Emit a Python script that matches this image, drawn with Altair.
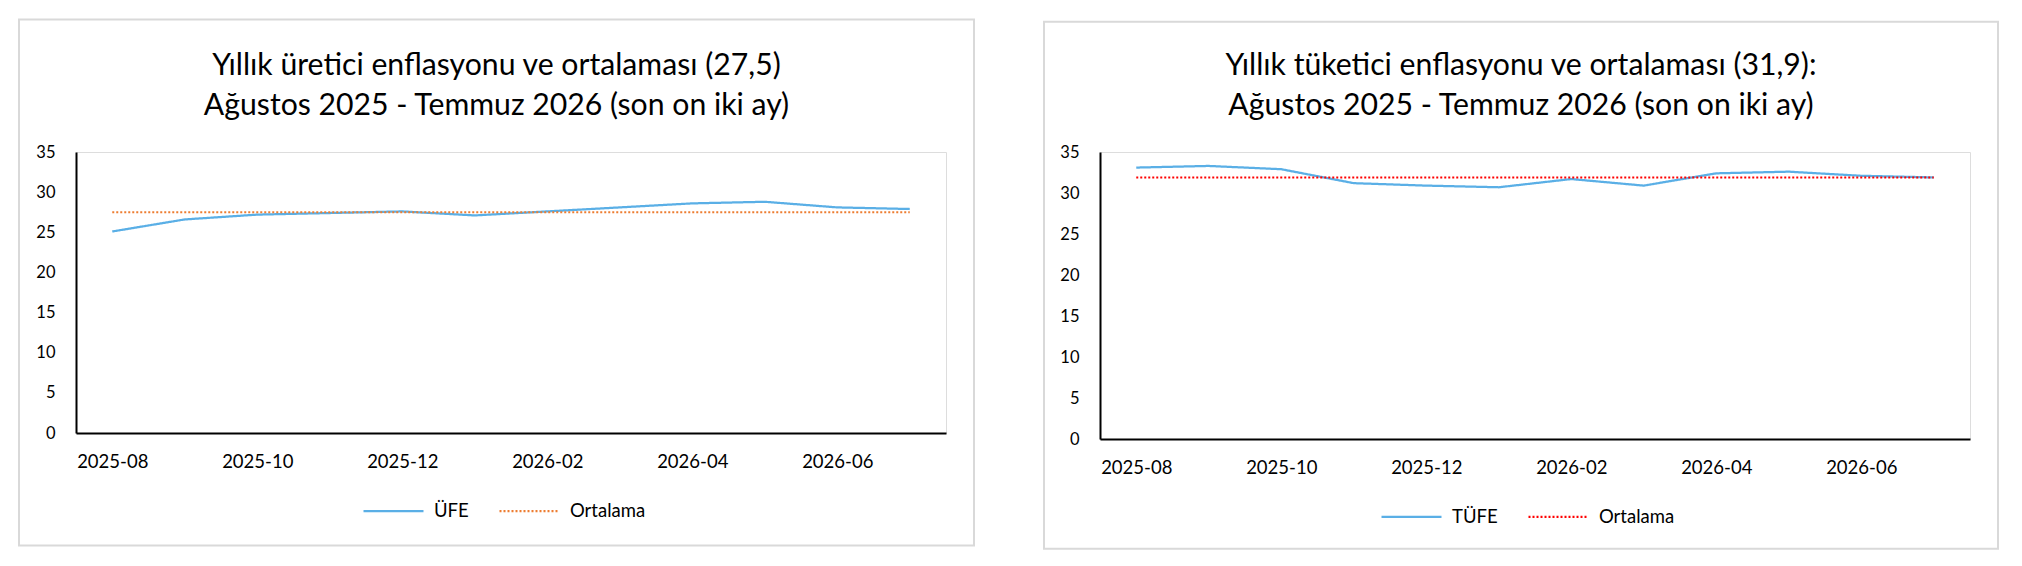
import altair as alt
import pandas as pd

# ---- data ----
aylar = ["2025-08", "2025-09", "2025-10", "2025-11", "2025-12", "2026-01",
         "2026-02", "2026-03", "2026-04", "2026-05", "2026-06", "2026-07"]
x_etiketleri = ["2025-08", "2025-10", "2025-12", "2026-02", "2026-04", "2026-06"]
y_degerleri = [0, 5, 10, 15, 20, 25, 30, 35]

ufe = [25.1, 26.6, 27.2, 27.4, 27.6, 27.1, 27.6, 28.1, 28.6, 28.8, 28.1, 27.9]
ufe_ortalama = 27.5
tufe = [33.1, 33.3, 32.9, 31.2, 30.9, 30.7, 31.7, 30.9, 32.4, 32.6, 32.1, 31.9]
tufe_ortalama = 31.9

baslik_ufe = ["Yıllık üretici enflasyonu ve ortalaması (27,5)",
              "Ağustos 2025 - Temmuz 2026 (son on iki ay)"]
baslik_tufe = ["Yıllık tüketici enflasyonu ve ortalaması (31,9):",
               "Ağustos 2025 - Temmuz 2026 (son on iki ay)"]

FONT = "Lato"
BLUE = "#5AAFE6"


def panel(values, avg, seri_adi, avg_color, title_lines, h, border, legend_x, legend_y, title_offset):
    df = pd.DataFrame({"ay": aylar, "deger": values, "seri": seri_adi})
    dfo = pd.DataFrame({"ay": aylar, "deger": [avg] * len(aylar), "seri": "Ortalama"})
    domain = [seri_adi, "Ortalama"]
    leg = alt.Legend(title=None, orient="none", legendX=legend_x, legendY=legend_y,
                     direction="horizontal", symbolType="stroke", symbolSize=3600,
                     symbolStrokeWidth=2.25, labelFont=FONT, labelFontSize=18.5,
                     labelColor="black", labelOffset=9, columnPadding=26)
    color = alt.Color("seri:N", scale=alt.Scale(domain=domain, range=[BLUE, avg_color]), legend=leg)
    dash = alt.StrokeDash("seri:N", scale=alt.Scale(domain=domain, range=[[1, 0], [2, 2]]), legend=leg)
    x = alt.X("ay:O", sort=aylar, title=None,
              scale=alt.Scale(type="point", padding=0.5),
              axis=alt.Axis(values=x_etiketleri, labelAngle=0, ticks=False, tickSize=0,
                            labelPadding=19, labelFont=FONT, labelFontSize=18.5,
                            labelColor="black", domainColor="black", domainWidth=2, grid=False))
    y = alt.Y("deger:Q", title=None,
              scale=alt.Scale(domain=[0, 35], nice=False),
              axis=alt.Axis(values=y_degerleri, ticks=False, tickSize=0, labelPadding=21,
                            labelFont=FONT, labelFontSize=16.5, labelColor="black",
                            domainColor="black", domainWidth=2, grid=False))
    cerceve = alt.Chart(pd.DataFrame({"k": [0]})).mark_rect(
        fill="transparent", stroke="#D9D9D9", strokeWidth=2
    ).encode(x=alt.value(border[0]), x2=alt.value(border[1]),
             y=alt.value(border[2]), y2=alt.value(border[3]))
    seri = alt.Chart(df).mark_line(strokeWidth=2.25).encode(x=x, y=y, color=color, strokeDash=dash)
    ort = alt.Chart(dfo).mark_line(strokeWidth=2).encode(x=x, y=y, color=color, strokeDash=dash)
    return alt.layer(cerceve, seri, ort).properties(
        width=870, height=h,
        title=alt.TitleParams(text=title_lines, font=FONT, fontSize=30.2, fontWeight="normal",
                              color="black", anchor="middle", frame="bounds",
                              offset=title_offset, lineHeight=40),
    )


sol = panel(ufe, ufe_ortalama, "ÜFE", "#ED7D31", baslik_ufe, 281,
            (-57, 898, -132.5, 393.5), 286, 327.5, -103)
sag = panel(tufe, tufe_ortalama, "TÜFE", "#FF0000", baslik_tufe, 287,
            (-56, 898, -130.3, 396.7), 280, 333.4, -100)

chart = alt.hconcat(sol, sag, spacing=66).resolve_scale(
    color="independent", strokeDash="independent"
).resolve_legend(color="independent", strokeDash="independent").properties(
    padding={"left": 9, "top": 10, "right": 0, "bottom": 0}
).configure_view(stroke=None).configure(background="white")

chart.save("out.html", embed_options={"renderer": "svg", "actions": False})
